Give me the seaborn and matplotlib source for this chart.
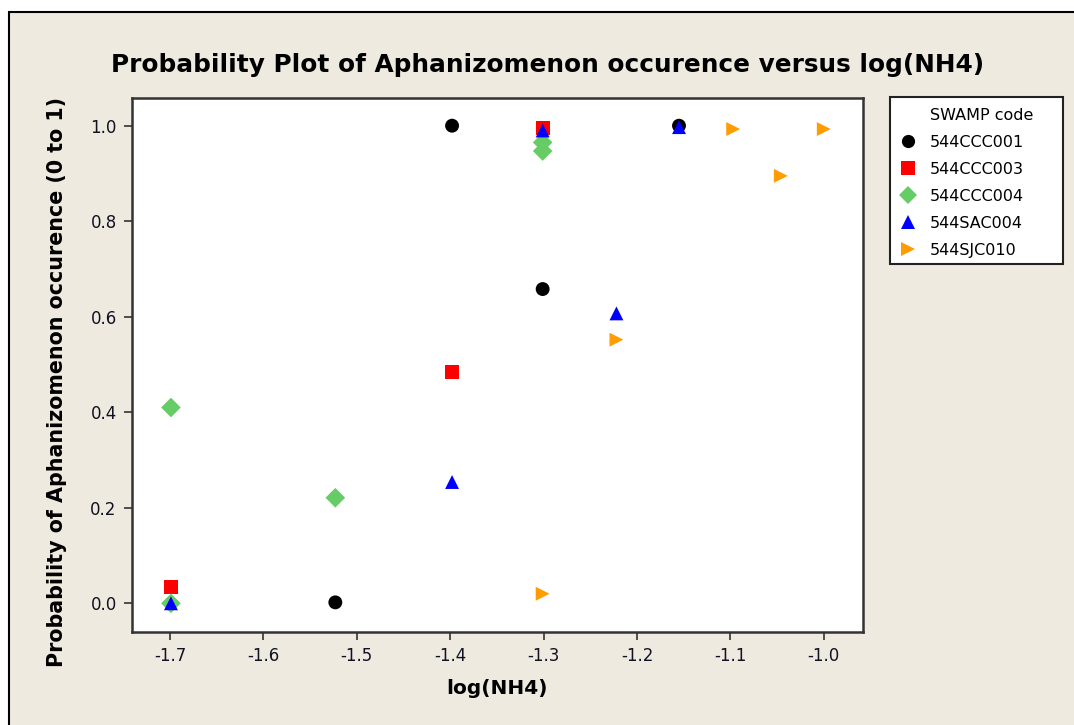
import matplotlib
matplotlib.use("Agg")
import matplotlib.pyplot as plt
import seaborn as sns
import pandas as pd
from matplotlib.patches import Rectangle

# ---- data ----
codes = ["544CCC001", "544CCC003", "544CCC004", "544SAC004", "544SJC010"]
x_ccc001 = [-1.398, -1.523, -1.301, -1.155]
y_ccc001 = [1.000, 0.002, 0.658, 1.000]
x_ccc003 = [-1.699, -1.398, -1.301]
y_ccc003 = [0.035, 0.485, 0.995]
x_ccc004 = [-1.699, -1.699, -1.523, -1.301, -1.301]
y_ccc004 = [0.000, 0.410, 0.221, 0.965, 0.947]
x_sac004 = [-1.699, -1.398, -1.301, -1.222, -1.155]
y_sac004 = [0.000, 0.254, 0.990, 0.607, 0.997]
x_sjc010 = [-1.301, -1.222, -1.097, -1.046, -1.000]
y_sjc010 = [0.020, 0.552, 0.993, 0.895, 0.993]

xs = [x_ccc001, x_ccc003, x_ccc004, x_sac004, x_sjc010]
ys = [y_ccc001, y_ccc003, y_ccc004, y_sac004, y_sjc010]
rows = []
for c, xx, yy in zip(codes, xs, ys):
    for a, b in zip(xx, yy):
        rows.append({"logNH4": a, "prob": b, "SWAMP code": c})
df = pd.DataFrame(rows)

colors = ["#000000", "#FF0000", "#66CC66", "#0000FF", "#FF9C00"]
markers = ["o", "s", "D", "^", ">"]
palette = dict(zip(codes, colors))
marker_map = dict(zip(codes, markers))

bg = "#EEEAE0"
sns.set_style("white")
plt.rcParams["font.family"] = ["DejaVu Sans"]
plt.rcParams["text.color"] = "black"

W, H = 1074, 725
fig = plt.figure(figsize=(10.74, 7.25), dpi=100, facecolor="white")
# beige panel with black border on top/left only (extends past right/bottom edges)
fig.patches.append(Rectangle((8.5 / W, -0.1), 1.2, 1.1 - 11.5 / H,
                             transform=fig.transFigure, facecolor=bg,
                             edgecolor="black", linewidth=1.5, zorder=-10))

ax = fig.add_axes([132 / W, 1 - 631.5 / H, (863 - 132) / W, (631.5 - 98) / H])
ax.set_facecolor("white")

sns.scatterplot(data=df, x="logNH4", y="prob", hue="SWAMP code", style="SWAMP code",
                hue_order=codes, style_order=codes, palette=palette, markers=marker_map,
                s=100, linewidth=0, edgecolor="none", ax=ax, zorder=3)

ax.set_xlim(-1.7407, -0.958)
ax.set_ylim(-0.059, 1.058)
ax.set_xticks([-1.7, -1.6, -1.5, -1.4, -1.3, -1.2, -1.1, -1.0])
ax.set_xticklabels(["-1.7", "-1.6", "-1.5", "-1.4", "-1.3", "-1.2", "-1.1", "-1.0"])
ax.set_yticks([0.0, 0.2, 0.4, 0.6, 0.8, 1.0])
ax.set_yticklabels(["0.0", "0.2", "0.4", "0.6", "0.8", "1.0"])
ax.tick_params(axis="both", direction="out", length=6, width=1.2, color="#333333",
               labelsize=12, labelcolor="#111122", bottom=True, left=True, pad=5)
for sp in ax.spines.values():
    sp.set_visible(True)
    sp.set_color("#333333")
    sp.set_linewidth(1.8)

ax.set_xlabel("")
ax.set_ylabel("")
fig.text(497 / W, 1 - 689 / H, "log(NH4)", ha="center", va="center",
         fontsize=14.5, fontweight="bold", color="black")
fig.text(57 / W, 1 - 382 / H, "Probability of Aphanizomenon occurence (0 to 1)",
         ha="center", va="center", rotation=90, fontsize=14.9, fontweight="bold",
         color="black")
fig.text(548 / W, 1 - 65 / H,
         "Probability Plot of Aphanizomenon occurence versus log(NH4)",
         ha="center", va="center", fontsize=17.8, fontweight="bold", color="black")

# legend box (frame drawn separately to match the reference's box size)
fig.patches.append(Rectangle((890 / W, 1 - 264 / H), (1063 - 890) / W, (264 - 97) / H,
                             transform=fig.transFigure, facecolor="white",
                             edgecolor="#222222", linewidth=1.5, zorder=5))
handles, labels = ax.get_legend_handles_labels()
if ax.legend_ is not None:
    ax.legend_.remove()
leg = fig.legend(handles, labels, loc="upper left",
                 bbox_to_anchor=(890 / W, 1 - 125 / H), bbox_transform=fig.transFigure,
                 fontsize=11.5, frameon=False,
                 labelspacing=0.75, handletextpad=0.8, borderpad=0.6,
                 handlelength=1.1, borderaxespad=0)
leg.set_zorder(6)
for h in leg.legend_handles:
    if hasattr(h, "set_markersize"):
        h.set_markersize(9.5)
for t in leg.get_texts():
    t.set_color("black")
fig.text(930 / W, 1 - 115 / H, "SWAMP code", ha="left", va="center",
         fontsize=11.5, color="black", zorder=7)

fig.savefig("out.png", dpi=100, facecolor="white")
